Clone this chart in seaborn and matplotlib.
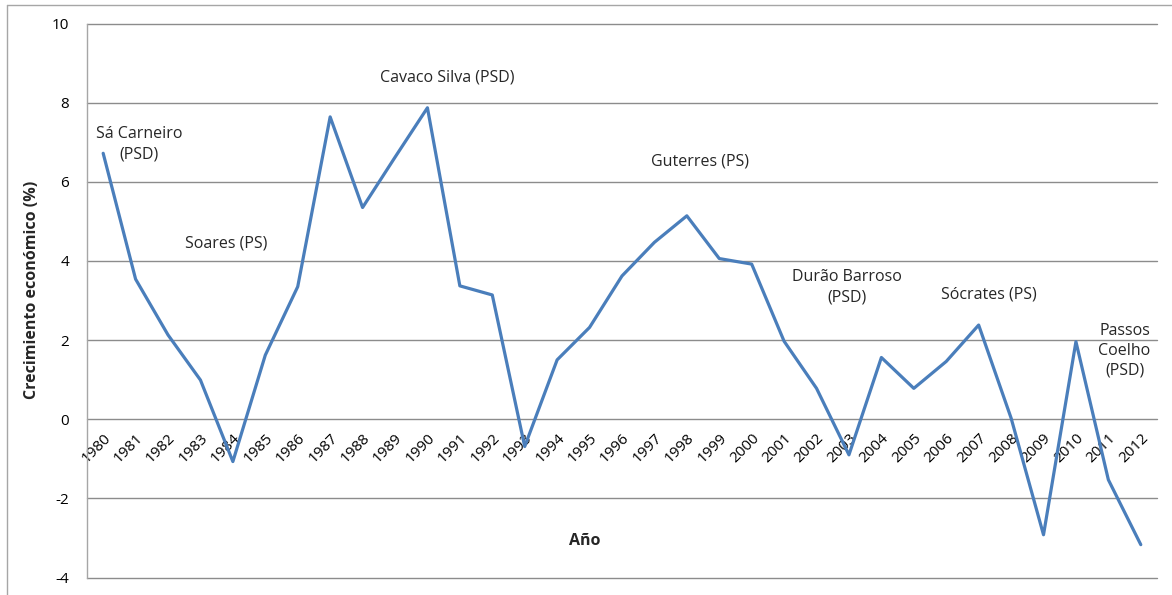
import matplotlib
matplotlib.use("Agg")
import matplotlib.pyplot as plt
import seaborn as sns
import pandas as pd
from matplotlib.lines import Line2D

# Data
years = [str(y) for y in range(1980, 2013)]
growth = [6.72, 3.54, 2.13, 0.99, -1.07, 1.62, 3.35, 7.64, 5.35, 6.62,
          7.87, 3.37, 3.14, -0.69, 1.50, 2.32, 3.62, 4.47, 5.14, 4.06,
          3.92, 1.97, 0.78, -0.90, 1.56, 0.78, 1.46, 2.38, 0.03, -2.92,
          1.96, -1.53, -3.17]

# Government annotations: label, category position, value
gov_labels = ["Sá Carneiro\n(PSD)", "Soares (PS)", "Cavaco Silva (PSD)",
              "Guterres (PS)", "Durão Barroso\n(PSD)", "Sócrates (PS)",
              "Passos\nCoelho\n(PSD)"]
gov_x = [1.1, 3.8, 10.6, 18.4, 22.95, 27.3, 31.5]
gov_y = [6.95, 4.45, 8.64, 6.52, 3.34, 3.16, 1.73]

df = pd.DataFrame({"Año": years, "Crecimiento": growth})

sns.set_style("white")
plt.rcParams["font.family"] = ["Open Sans", "DejaVu Sans"]
plt.rcParams["axes.unicode_minus"] = False

fig = plt.figure(figsize=(11.72, 5.95), dpi=100)
ax = fig.add_axes([0.0742, 0.0294, 0.9130, 0.9311])

sns.lineplot(data=df, x="Año", y="Crecimiento", ax=ax, color="#4A7EBB",
             linewidth=2.3, sort=False)

ax.set_ylim(-4, 10)
ax.set_xlim(-0.5, len(years) - 0.5)
ax.set_yticks(range(-4, 11, 2))
ax.yaxis.grid(True, color="#8C8C8C", linewidth=1)
for gl in ax.get_ygridlines():
    gl.set_clip_on(False)
ax.set_axisbelow(True)

# category axis crosses at zero
ax.spines["bottom"].set_position(("data", 0))
ax.spines["bottom"].set_visible(False)
ax.spines["top"].set_visible(False)
ax.spines["right"].set_visible(False)
ax.spines["left"].set_color("#A6A6A6")
ax.spines["left"].set_linewidth(1)

ax.set_xticks(range(len(years)))
ax.set_xticklabels(years, rotation=45, ha="right", rotation_mode="anchor",
                   fontsize=11)
ax.tick_params(axis="x", length=0, pad=8, colors="black")
ax.tick_params(axis="y", length=0, pad=13, labelsize=11, colors="black")

ax.set_xlabel("")
ax.set_ylabel("Crecimiento económico (%)", fontsize=11.5, fontweight="bold")
ax.yaxis.set_label_coords(-0.044, 0.52)
fig.text(585 / 1172, 1 - 541 / 595, "Año", ha="center", va="center",
         fontsize=11.5, fontweight="bold")

for lab, gx, gy in zip(gov_labels, gov_x, gov_y):
    ax.text(gx, gy, lab, ha="center", va="center", fontsize=11.5,
            linespacing=1.35)

# outer chart frame
fig.add_artist(Line2D([7 / 1172, 1], [1 - 4.5 / 595, 1 - 4.5 / 595],
                      transform=fig.transFigure, color="#A6A6A6", lw=1))
fig.add_artist(Line2D([7 / 1172, 7 / 1172], [0, 1 - 4.5 / 595],
                      transform=fig.transFigure, color="#A6A6A6", lw=1))

fig.savefig("out.png", dpi=100)
